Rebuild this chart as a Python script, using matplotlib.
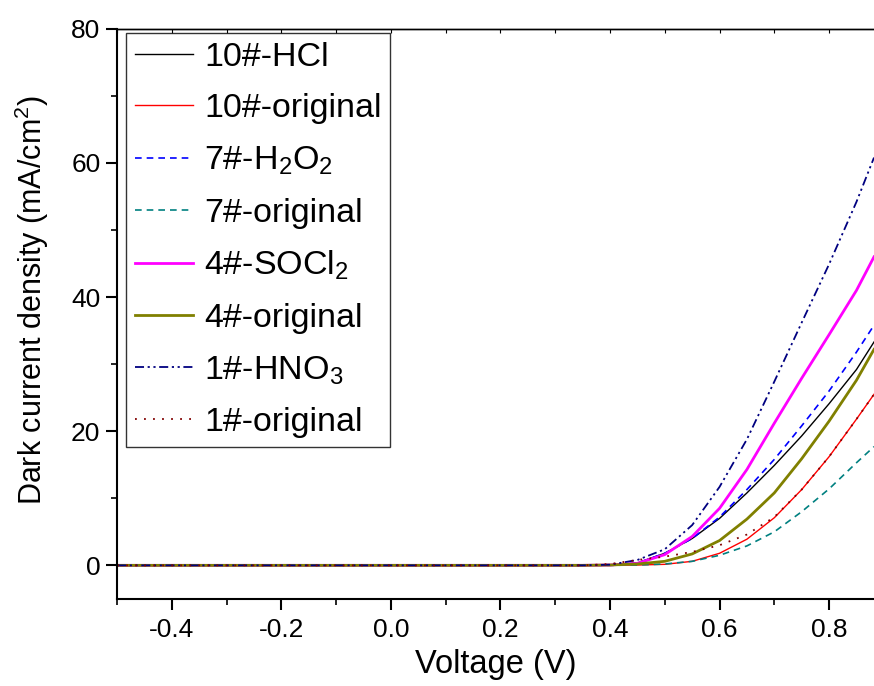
import matplotlib
matplotlib.use("Agg")
import matplotlib.pyplot as plt
from matplotlib.ticker import MultipleLocator

plt.rcParams['font.family'] = ['Liberation Sans', 'DejaVu Sans']
plt.rcParams['mathtext.fontset'] = 'custom'
plt.rcParams['mathtext.rm'] = 'Liberation Sans'
plt.rcParams['mathtext.it'] = 'Liberation Sans'

voltage = [-0.5, -0.4, -0.3, -0.2, -0.1, 0.0, 0.1, 0.2, 0.3, 0.35,
           0.40, 0.45, 0.50, 0.55, 0.60, 0.65, 0.70, 0.75, 0.80, 0.85, 0.882]

hcl_10 =      [0, 0, 0, 0, 0, 0, 0, 0, 0, 0, 0.05, 0.35, 1.8, 4.0, 7.0, 10.8, 14.9, 19.3, 24.1, 29.2, 33.3]
orig_10 =     [0, 0, 0, 0, 0, 0, 0, 0, 0, 0, 0.0, 0.05, 0.15, 0.6, 1.8, 3.9, 7.1, 11.3, 16.2, 21.8, 25.5]
h2o2_7 =      [0, 0, 0, 0, 0, 0, 0, 0, 0, 0, 0.05, 0.35, 1.8, 4.0, 7.2, 11.3, 15.8, 20.8, 26.0, 31.8, 35.8]
orig_7 =      [0, 0, 0, 0, 0, 0, 0, 0, 0, 0, 0.0, 0.05, 0.2, 0.6, 1.5, 2.9, 5.0, 8.0, 11.4, 15.3, 17.7]
socl2_4 =     [0, 0, 0, 0, 0, 0, 0, 0, 0, 0, 0.05, 0.3, 1.6, 4.3, 8.5, 14.3, 21.2, 27.9, 34.4, 41.0, 46.0]
orig_4 =      [0, 0, 0, 0, 0, 0, 0, 0, 0, 0, 0.05, 0.2, 0.6, 1.7, 3.7, 6.9, 10.8, 15.9, 21.5, 27.6, 32.2]
hno3_1 =      [0, 0, 0, 0, 0, 0, 0, 0, 0, 0, 0.1, 0.8, 2.4, 6.0, 11.7, 18.8, 27.4, 36.2, 44.9, 54.2, 60.8]
orig_1 =      [0, 0, 0, 0, 0, 0, 0, 0, 0, 0, 0.2, 0.8, 1.3, 2.0, 3.0, 4.6, 7.2, 11.3, 16.2, 21.8, 25.5]

labels = ['10#-HCl', '10#-original', '7#-H$_\\mathregular{2}$O$_\\mathregular{2}$', '7#-original',
          '4#-SOCl$_\\mathregular{2}$', '4#-original', '1#-HNO$_\\mathregular{3}$', '1#-original']

series = [hcl_10, orig_10, h2o2_7, orig_7, socl2_4, orig_4, hno3_1, orig_1]
colors = ['#000000', '#FF0000', '#0000FF', '#008080', '#FF00FF', '#808000', '#000080', '#800000']
styles = ['-', '-', (0, (4, 3)), (0, (4, 3)), '-', '-', (0, (5, 2, 1.2, 2, 1.2, 2)), (0, (1, 4))]
widths = [1.0, 1.0, 1.2, 1.2, 2.0, 2.0, 1.3, 1.3]

fig = plt.figure(figsize=(8.74, 6.86), dpi=100)
ax = fig.add_axes([0.134, 0.127, 0.866, 0.831])

for y, lab, c, ls, lw in zip(series, labels, colors, styles, widths):
    ax.plot(voltage, y, color=c, linestyle=ls, linewidth=lw, label=lab)

ax.set_xlim(-0.5, 0.882)
ax.set_ylim(-5, 80)
ax.xaxis.set_major_locator(MultipleLocator(0.2))
ax.xaxis.set_minor_locator(MultipleLocator(0.1))
ax.yaxis.set_major_locator(MultipleLocator(20))
ax.yaxis.set_minor_locator(MultipleLocator(10))
ax.xaxis.set_major_formatter(matplotlib.ticker.FormatStrFormatter('%.1f'))

ax.spines['right'].set_visible(False)
for s in ['left', 'bottom']:
    ax.spines[s].set_linewidth(1.5)
ax.spines['top'].set_linewidth(1.0)

ax.tick_params(axis='both', which='major', direction='out', length=8, width=1.5, labelsize=19)
ax.tick_params(axis='x', which='major', pad=6)
ax.tick_params(axis='y', which='major', pad=4)
ax.tick_params(axis='both', which='minor', direction='out', length=4, width=1.2)

top = ax.secondary_xaxis('top')
top.xaxis.set_major_locator(MultipleLocator(0.1))
top.tick_params(axis='x', which='major', direction='in', length=3, width=0.8, labeltop=False)
top.spines['top'].set_linewidth(1.0)

ax.set_xlabel('Voltage (V)', fontsize=23.5, labelpad=5)
ax.set_ylabel('Dark current density (mA/cm$^\\mathregular{2}$)', fontsize=22)
ax.yaxis.set_label_coords(-0.088, 0.525)

leg = ax.legend(loc='upper left', bbox_to_anchor=(0.012, 0.992), fontsize=24.5,
                frameon=True, fancybox=False, edgecolor='black', handlelength=1.7,
                handletextpad=0.35, labelspacing=0.6, borderpad=0.25, borderaxespad=0.0)
leg.get_frame().set_linewidth(1.0)

fig.savefig('out.png', dpi=100)
